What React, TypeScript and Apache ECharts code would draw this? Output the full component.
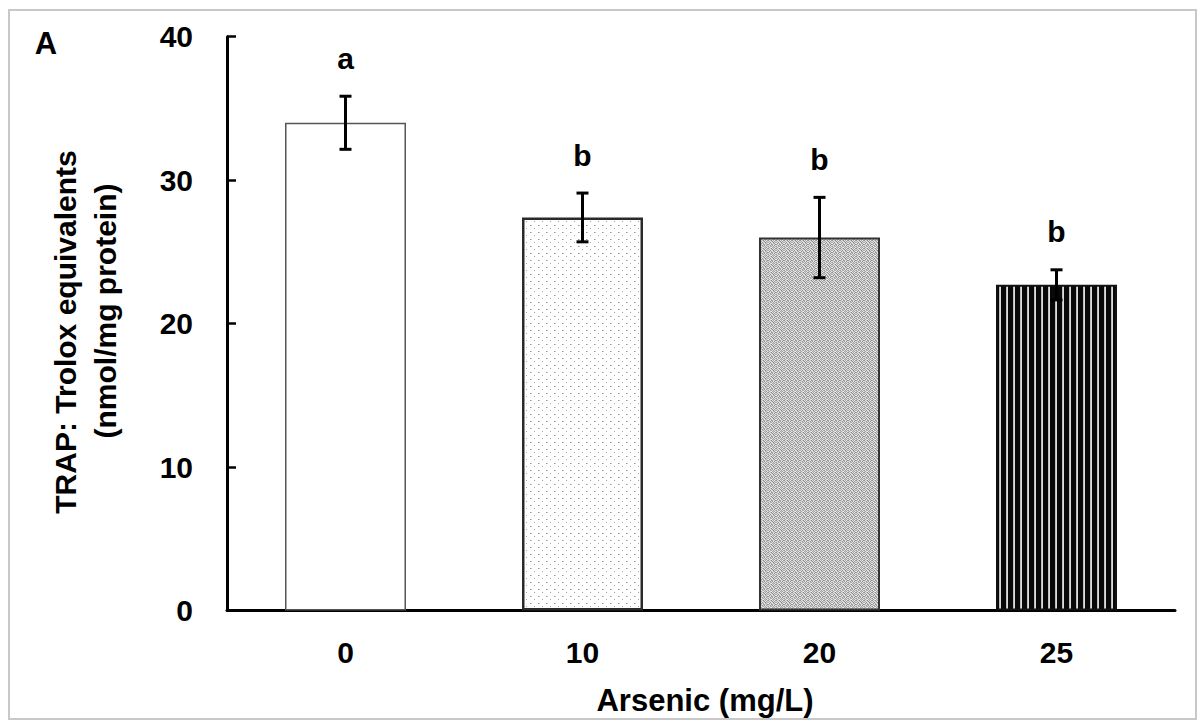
import React, { useEffect, useRef } from "react";
import * as echarts from "echarts";

const categories = ["0", "10", "20", "25"];
const means = [34.0, 27.4, 26.0, 22.7];
const errors = [1.85, 1.7, 2.8, 1.05];
const letters = ["a", "b", "b", "b"];
const yMin = 0;
const yMax = 40;
const yInterval = 10;

const FONT = '"Liberation Sans", Arial, sans-serif';

function makeTile(w: number, h: number, pix: (x: number, y: number) => number) {
  const c = document.createElement("canvas");
  c.width = w;
  c.height = h;
  const ctx = c.getContext("2d")!;
  const img = ctx.createImageData(w, h);
  for (let y = 0; y < h; y++) {
    for (let x = 0; x < w; x++) {
      const v = pix(x, y);
      const k = (y * w + x) * 4;
      img.data[k] = v;
      img.data[k + 1] = v;
      img.data[k + 2] = v;
      img.data[k + 3] = 255;
    }
  }
  ctx.putImageData(img, 0, 0);
  return c;
}

export default function App() {
  const ref = useRef<HTMLDivElement>(null);
  useEffect(() => {
    document.body.style.margin = "0";
    const chart = echarts.init(ref.current!, undefined, { renderer: "svg" });

    // light dotted tile
    const dots = makeTile(8, 7, (x, y) => {
      if (y === 1 && x === 2) return 150;
      if (y === 1 && x === 3) return 200;
      if (y === 4 && x === 6) return 165;
      return 255;
    });
    // gray speckle tile (hand-made irregular texture)
    const grayVals = [
      [150, 230, 185, 140, 220, 170, 235, 160],
      [210, 165, 240, 200, 155, 225, 150, 205],
      [175, 220, 145, 230, 190, 140, 215, 180],
      [235, 150, 200, 165, 240, 185, 165, 225],
      [160, 205, 235, 150, 175, 220, 200, 145],
      [225, 180, 155, 215, 145, 235, 160, 210],
      [145, 240, 190, 170, 225, 155, 230, 175],
      [200, 160, 220, 240, 165, 205, 150, 235],
    ];
    const speckle = makeTile(8, 8, (x, y) => grayVals[y][x]);
    // vertical stripe tile
    const stripeVals = [8, 8, 8, 8, 8, 190, 220];
    const stripes = makeTile(7, 4, (x) => stripeVals[x]);

    const fills: any[] = [
      "#ffffff",
      { image: dots, repeat: "repeat" },
      { image: speckle, repeat: "repeat" },
      { image: stripes, repeat: "repeat" },
    ];
    const borders = ["#555555", "#2a2a2a", "#333333", "#111111"];
    const borderWidths = [1.5, 2.5, 2, 2];

    const option: any = {
      animation: false,
      backgroundColor: "#ffffff",
      grid: { left: 227, right: 23, top: 36.7, bottom: 109.5, containLabel: false },
      xAxis: {
        type: "category",
        data: categories,
        axisLine: { show: true, lineStyle: { color: "#000", width: 3 } },
        axisTick: { show: false },
        axisLabel: {
          color: "#000",
          fontSize: 30,
          fontWeight: "bold",
          fontFamily: FONT,
          margin: 27,
        },
        splitLine: { show: false },
      },
      yAxis: {
        type: "value",
        min: yMin,
        max: yMax,
        interval: yInterval,
        axisLine: { show: true, lineStyle: { color: "#000", width: 3 } },
        axisTick: { show: true, inside: true, length: 9, lineStyle: { color: "#000", width: 2.5 } },
        axisLabel: {
          color: "#000",
          fontSize: 30,
          fontWeight: "bold",
          fontFamily: FONT,
          margin: 34,
        },
        splitLine: { show: false },
      },
      series: [
        {
          type: "bar",
          barWidth: 121,
          data: means.map((v, i) => ({
            value: v,
            itemStyle: {
              color: fills[i],
              borderColor: borders[i],
              borderWidth: borderWidths[i],
            },
          })),
          z: 2,
        },
        {
          type: "custom",
          z: 5,
          data: means.map((v, i) => [i, v, errors[i]]),
          renderItem: (params: any, api: any) => {
            const i = params.dataIndex;
            const m = api.value(1);
            const e = api.value(2);
            const x = api.coord([i, m])[0];
            const hi = api.coord([i, m + e])[1];
            const lo = api.coord([i, m - e])[1];
            const cap = 6;
            const st = { stroke: "#000", lineWidth: 3 };
            return {
              type: "group",
              children: [
                { type: "line", shape: { x1: x, y1: hi, x2: x, y2: lo }, style: st },
                { type: "line", shape: { x1: x - cap, y1: hi, x2: x + cap, y2: hi }, style: st },
                { type: "line", shape: { x1: x - cap, y1: lo, x2: x + cap, y2: lo }, style: st },
                {
                  type: "text",
                  x: x,
                  y: hi - 38,
                  style: {
                    text: letters[i],
                    fill: "#000",
                    font: `bold 30px ${FONT}`,
                    textAlign: "center",
                    textVerticalAlign: "middle",
                  },
                },
              ],
            };
          },
        },
      ],
      graphic: [
        {
          type: "rect",
          shape: { x: 9, y: 10, width: 1187, height: 709 },
          style: { fill: "none", stroke: "#c8c8c8", lineWidth: 2 },
          silent: true,
          z: 0,
        },
        {
          type: "text",
          x: 46,
          y: 43,
          style: {
            text: "A",
            fill: "#000",
            font: `bold 31px ${FONT}`,
            textAlign: "center",
            textVerticalAlign: "middle",
          },
        },
        {
          type: "text",
          x: 65,
          y: 332,
          rotation: Math.PI / 2,
          style: {
            text: "TRAP: Trolox equivalents",
            fill: "#000",
            font: `bold 30px ${FONT}`,
            textAlign: "center",
            textVerticalAlign: "middle",
          },
        },
        {
          type: "text",
          x: 105,
          y: 311,
          rotation: Math.PI / 2,
          style: {
            text: "(nmol/mg protein)",
            fill: "#000",
            font: `bold 30px ${FONT}`,
            textAlign: "center",
            textVerticalAlign: "middle",
          },
        },
        {
          type: "text",
          x: 705,
          y: 700,
          style: {
            text: "Arsenic (mg/L)",
            fill: "#000",
            font: `bold 31px ${FONT}`,
            textAlign: "center",
            textVerticalAlign: "middle",
          },
        },
      ],
    };
    chart.setOption(option);
    return () => chart.dispose();
  }, []);
  return <div ref={ref} style={{ width: 1198, height: 720, overflow: "hidden" }} />;
}
